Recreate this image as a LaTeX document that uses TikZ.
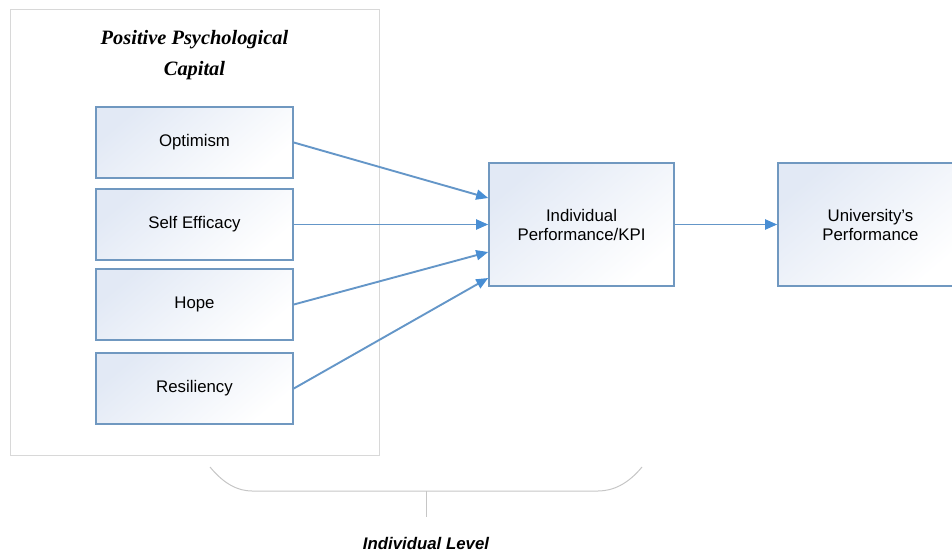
\documentclass[tikz,border=0pt]{standalone}
\usepackage{fontspec}
\setmainfont{Liberation Sans}
\newfontfamily\titlefont{Liberation Serif}
\usetikzlibrary{arrows.meta}

\definecolor{boxline}{RGB}{112,152,192}
\definecolor{boxtop}{RGB}{226,233,245}
\definecolor{arrowcol}{RGB}{100,150,200}
\definecolor{tipcol}{RGB}{72,142,212}
\definecolor{framecol}{RGB}{216,216,216}
\definecolor{bracecol}{RGB}{198,198,198}

\begin{document}
\begin{tikzpicture}[x=1pt, y=-1pt,
	capbox/.style={draw=boxline, line width=1.6pt, top color=boxtop, bottom color=white, shading angle=40,
		minimum width=197pt, minimum height=71pt, inner sep=0pt, font=\fontsize{16.8}{19}\selectfont},
	perfbox/.style={capbox, minimum width=185pt, minimum height=123pt, align=center},
	link/.style={draw=arrowcol, line width=1.9pt, -{Triangle[length=12pt, width=10pt, color=tipcol]}}]

	\useasboundingbox (0,0) rectangle (952,551);

	%Rahmen links
	\draw [framecol, line width=1pt] (10,10) rectangle (379,455);
	\node [font=\titlefont\bfseries\itshape\fontsize{20.4}{30}\selectfont, anchor=base] (title) at (194.5,45) {Positive Psychological};
	\node [font=\titlefont\bfseries\itshape\fontsize{20.4}{30}\selectfont, anchor=base] (title2) at (194.5,75) {Capital};

	%Kästen
	\node [capbox] (opt) at (194.5,142.5) {Optimism};
	\node [capbox] (self) at (194.5,224.5) {Self Efficacy};
	\node [capbox] (hope) at (194.5,304.5) {Hope};
	\node [capbox] (resil) at (194.5,388.5) {Resiliency};

	\node [perfbox] (indiv) at (581.5,224.5) {Individual\\Performance/KPI};
	\node [perfbox] (univ) at (870.5,224.5) {University's\\Performance};

	%Pfeile
	\draw [link] (opt.east) -- ([yshift=26.5pt]indiv.west);
	\draw [link] (self.east) -- (indiv.west);
	\draw [link] (hope.east) -- ([yshift=-27.5pt]indiv.west);
	\draw [link] (resil.east) -- ([yshift=-53.5pt]indiv.west);
	\draw [link] (indiv.east) -- (univ.west);

	%Klammer
	\draw [bracecol, line width=1pt] (210,467) .. controls (224,484) and (238,491) .. (252,491)
		-- (598,491) .. controls (613,491) and (628,484) .. (642,467);
	\draw [bracecol, line width=1pt] (426,491) -- (426,517);
	\node [font=\bfseries\itshape\fontsize{16.8}{19}\selectfont, anchor=base] (level) at (426,549) {Individual Level};

\end{tikzpicture}
\end{document}
